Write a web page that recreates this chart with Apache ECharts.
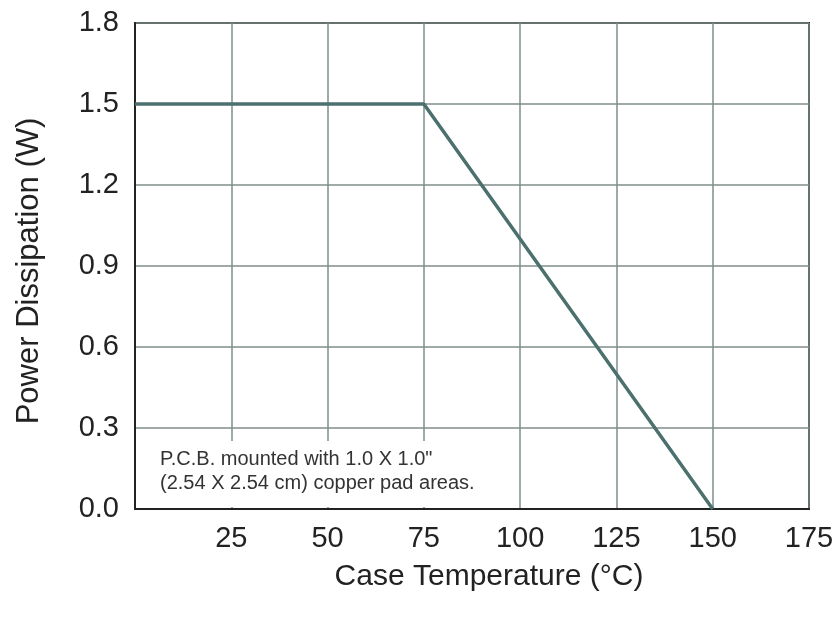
<!DOCTYPE html>
<html>
<head>
<meta charset="utf-8">
<script src="https://cdn.jsdelivr.net/npm/echarts@6/dist/echarts.min.js"></script>
<style>html,body{margin:0;padding:0;background:#fff;}#c{width:839px;height:621px;}</style>
</head>
<body>
<div id="c"></div>
<script>
var caseTemp = [0, 75, 150];
var powerW = [1.5, 1.5, 0];
var xTicks = [25, 50, 75, 100, 125, 150, 175];
var yTicks = [0.0, 0.3, 0.6, 0.9, 1.2, 1.5, 1.8];
var noteLines = ['P.C.B. mounted with 1.0 X 1.0"', '(2.54 X 2.54 cm) copper pad areas.'];

var chart = echarts.init(document.getElementById('c'));
var FONT = '"Liberation Sans", Arial, sans-serif';
chart.setOption({
  animation: false,
  grid: {left: 135, right: 30, top: 23, bottom: 112, show: true, borderColor: '#222', borderWidth: 2},
  xAxis: {
    type: 'value', min: 0, max: 175, interval: 25,
    name: 'Case Temperature (°C)', nameLocation: 'middle', nameGap: 53,
    nameTextStyle: {fontFamily: FONT, fontSize: 30, color: '#222', padding: [0, 0, 0, 34]},
    axisLine: {show: true, lineStyle: {color: '#222', width: 2}},
    axisTick: {show: false},
    axisLabel: {fontFamily: FONT, fontSize: 29, color: '#222', margin: 15,
      formatter: function (v) { return xTicks.indexOf(v) >= 0 ? String(v) : ''; }},
    splitLine: {show: true, lineStyle: {color: '#7f8c8a', width: 1.5}}
  },
  yAxis: {
    type: 'value', min: 0, max: 1.8, interval: 0.3,
    name: 'Power Dissipation (W)', nameLocation: 'middle', nameGap: 90,
    nameTextStyle: {fontFamily: FONT, fontSize: 31, color: '#222', padding: [0, 10, 0, 0]},
    axisLine: {show: true, lineStyle: {color: '#222', width: 2}},
    axisTick: {show: false},
    axisLabel: {fontFamily: FONT, fontSize: 29, color: '#222', margin: 16,
      formatter: function (v) { return v.toFixed(1); }},
    splitLine: {show: true, lineStyle: {color: '#7f8c8a', width: 1.5}}
  },
  graphic: [
    {type: 'rect', z: 1, shape: {x: 137, y: 441, width: 348, height: 66}, style: {fill: '#fff'}},
    {type: 'text', z: 3, left: 160, top: 447,
      style: {text: noteLines.join('\n'), font: '20px "Liberation Sans", Arial, sans-serif', fill: '#333', lineHeight: 24}}
  ],
  series: [{
    type: 'line', data: caseTemp.map(function (t, i) { return [t, powerW[i]]; }),
    showSymbol: false, symbol: 'none', z: 5,
    lineStyle: {color: '#4b706d', width: 3.5}
  }]
});
</script>
</body>
</html>
